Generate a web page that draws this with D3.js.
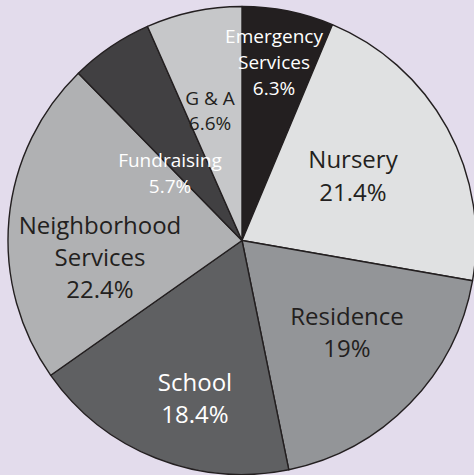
<!DOCTYPE html>
<html>
<head>
<meta charset="utf-8">
<script src="https://cdn.jsdelivr.net/npm/d3@7"></script>
<style>
  html, body { margin: 0; padding: 0; background: #e3dcec; }
  svg { display: block; }
</style>
</head>
<body>
<svg id="chart" width="474" height="475"></svg>
<script>
// ---- data ----
const categories = ["Emergency Services", "Nursery", "Residence", "School", "Neighborhood Services", "Fundraising", "G & A"];
const values = [6.3, 21.4, 19, 18.4, 22.4, 5.7, 6.6];
const labelLines = [["Emergency", "Services"], ["Nursery"], ["Residence"], ["School"], ["Neighborhood", "Services"], ["Fundraising"], ["G & A"]];
const pctLabels = ["6.3%", "21.4%", "19%", "18.4%", "22.4%", "5.7%", "6.6%"];

// ---- styling / layout ----
const fills = ["#231f20", "#e0e1e2", "#939598", "#5f6062", "#b0b1b3", "#414042", "#c6c7c9"];
const textFill = ["#ffffff", "#231f20", "#231f20", "#ffffff", "#231f20", "#ffffff", "#231f20"];
const fontSizes = [19, 24, 24, 24, 24, 19, 19];
const lineGap = [26, 33, 32, 32, 32, 26, 25];
const labelPos = [[274, 43], [353, 168], [347, 325], [195, 391], [100, 234], [170, 167], [210, 105]];

const cx = 242, cy = 240.5, R = 234;

const svg = d3.select("#chart");
svg.append("rect").attr("width", 474).attr("height", 475).attr("fill", "#e3dcec");

const data = categories.map((c, i) => ({ name: c, value: values[i], i }));
const pie = d3.pie().value(d => d.value).sort(null);
const arc = d3.arc().innerRadius(0).outerRadius(R);

const g = svg.append("g").attr("transform", `translate(${cx},${cy})`);
g.selectAll("path")
  .data(pie(data))
  .join("path")
  .attr("d", arc)
  .attr("fill", d => fills[d.data.i])
  .attr("stroke", "#231f20")
  .attr("stroke-width", 1.4)
  .attr("stroke-linejoin", "round");

const labels = svg.append("g")
  .attr("font-family", "'Open Sans', 'Noto Sans', sans-serif")
  .attr("text-anchor", "middle");

data.forEach((d, i) => {
  const lines = labelLines[i].concat([pctLabels[i]]);
  const t = labels.append("text")
    .attr("fill", textFill[i])
    .attr("font-size", fontSizes[i]);
  lines.forEach((ln, k) => {
    t.append("tspan")
      .attr("x", labelPos[i][0])
      .attr("y", labelPos[i][1] + k * lineGap[i])
      .text(ln);
  });
});
</script>
</body>
</html>
